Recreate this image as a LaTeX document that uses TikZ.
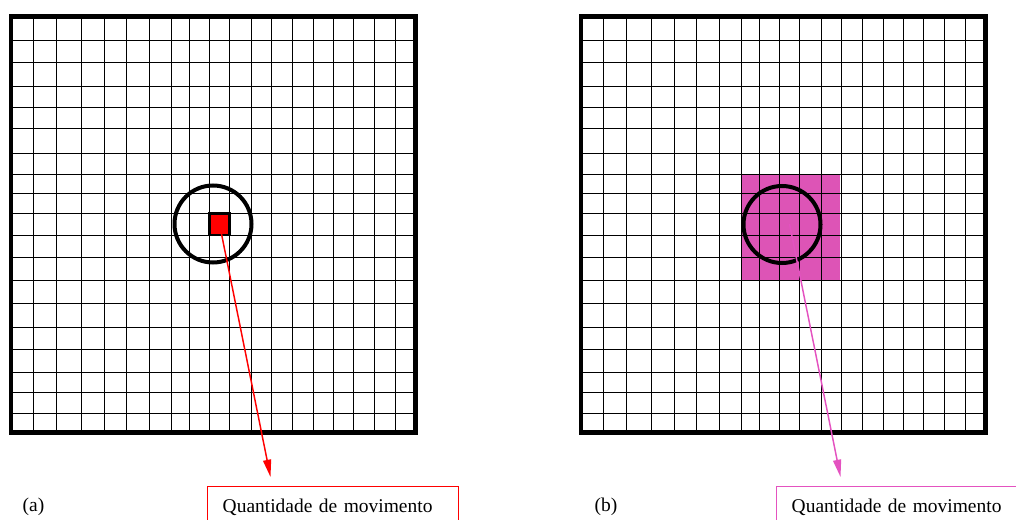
\documentclass[tikz,border=0pt]{standalone}
\usepackage{fontspec}
\setmainfont{Liberation Serif}
\usepackage{tikz}
\usetikzlibrary{arrows.meta}

\definecolor{blockpink}{RGB}{221,84,182}
\definecolor{arrowpink}{RGB}{228,82,192}

\begin{document}
\begin{tikzpicture}[x=0.75pt, y=-0.75pt,
  every node/.style={font=\fontsize{14.6}{18}\selectfont},
  gridline/.style={line width=0.7pt},
  frameline/.style={line width=3.4pt},
  ringline/.style={line width=3pt},
  labelbox/.style={draw, line width=1.1pt, anchor=north west, text width=165.75pt, align=left, inner xsep=11.25pt, inner ysep=9.2pt},
  momarrow/.style={line width=1.1pt, -{Triangle[length=13pt, width=6pt]}}]

\useasboundingbox (0,0) rectangle (1016,520);

% Block of cells in panel (b), under the grid
\fill[blockpink] (741,174) rectangle (840,280);

% Grids (panel a at 0, panel b shifted by 570)
\foreach \dx in {0,570} {
  \foreach \x in {33,56,81,104,126,149,171,189,209,229,251,271,292,313,333,353,374,395}
    \draw[gridline] (\x+\dx,16) -- (\x+\dx,432);
  \foreach \y in {40,62,86,107,128,153,174,193,213,235,257,280,303,327,349,372,392,413}
    \draw[gridline] (10+\dx,\y) -- (415+\dx,\y);
  \draw[frameline] (10.8+\dx,16.7) rectangle (415.5+\dx,432.5);
}

% Panel (a)
\draw[line width=2pt, fill=red] (209.5,213.5) rectangle (229.5,235);
\draw[ringline] (213,224) circle (38.5);
\coordinate (srca) at (219.5,224);
\coordinate (tipa) at (270.5,477);
\node (boxa) [labelbox, draw=red] at (207,486) {Quantidade de movimento};
\node (capa) at (33.5,507) {(a)};

% Panel (b)
\draw[ringline] (782,224.5) circle (38.5);
\coordinate (srcb) at (789.5,224);
\coordinate (tipb) at (840.5,477);
\node (boxb) [labelbox, draw=arrowpink] at (776,486) {Quantidade de movimento};
\node (capb) at (606,507) {(b)};

% Arrows
\draw[momarrow, red] (srca) -- (tipa);
\draw[momarrow, arrowpink] (srcb) -- (tipb);

\end{tikzpicture}
\end{document}
